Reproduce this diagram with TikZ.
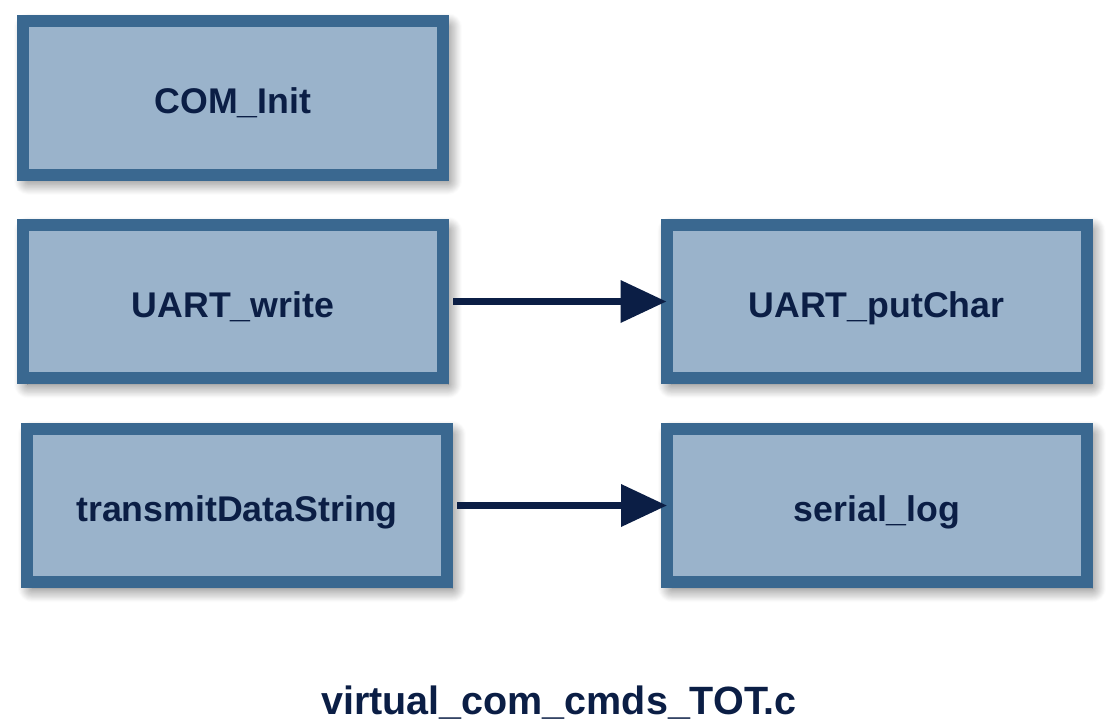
\documentclass[tikz,border=0pt]{standalone}
\usepackage{fontspec}
\setmainfont{Liberation Sans}
\usetikzlibrary{arrows.meta,shadows.blur}
\definecolor{boxfill}{HTML}{9AB3CB}
\definecolor{boxline}{HTML}{3A6890}
\definecolor{navy}{HTML}{0B1E45}
\tikzset{
  fnbox/.style={draw=boxline, fill=boxfill, line width=12pt, rectangle,
    minimum width=420pt, minimum height=153.5pt, outer sep=0pt, inner sep=0pt,
    text height=31pt, text depth=0pt,
    text=navy, font=\fontsize{35.7}{42}\selectfont\bfseries,
    blur shadow={shadow xshift=5pt, shadow yshift=-6pt, shadow blur radius=14pt, shadow blur steps=16, shadow opacity=65}},
  callarrow/.style={draw=navy, line width=7pt, shorten <=10pt,
    -{Triangle[length=46pt,width=41pt]}},
  titletext/.style={text=navy, font=\fontsize{39.5}{46}\selectfont\bfseries, anchor=base, inner sep=0pt}
}
\begin{document}
\begin{tikzpicture}[x=1pt,y=-1pt]
\useasboundingbox (0,0) rectangle (1119,724);
\node[fnbox] (cominit) at (233,98) {COM\_Init};
\node[fnbox] (uartwrite) at (233,301.5) {UART\_write};
\node[fnbox] (transmit) at (237,505.5) {transmitDataString};
\node[fnbox] (putchar) at (876.5,301.5) {UART\_putChar};
\node[fnbox] (seriallog) at (877,505.5) {serial\_log};
\draw[callarrow] (uartwrite.east) -- (putchar.west);
\draw[callarrow] (transmit.east) -- (seriallog.west);
\node[titletext] (title) at (559,714) {virtual\_com\_cmds\_TOT.c};
\end{tikzpicture}
\end{document}
